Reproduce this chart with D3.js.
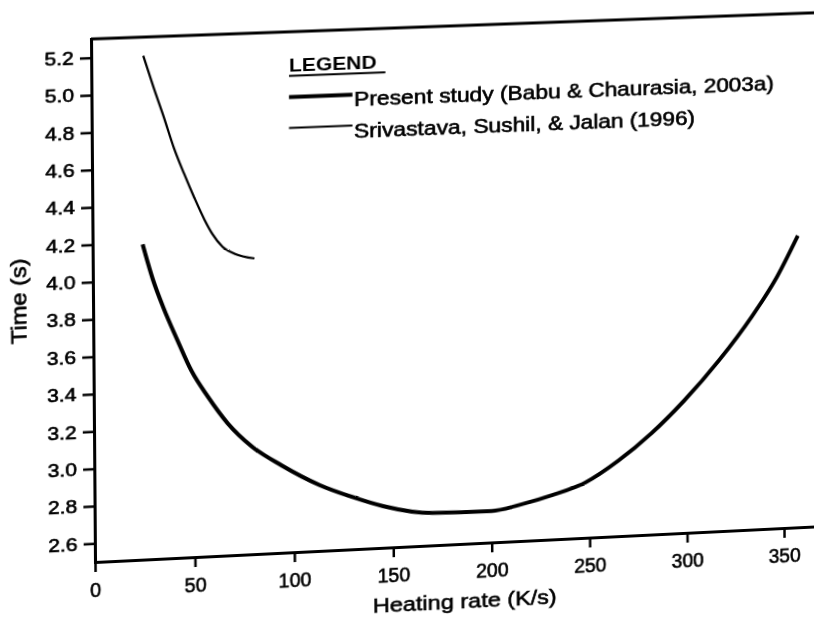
<!DOCTYPE html>
<html>
<head>
<meta charset="utf-8">
<script src="https://cdn.jsdelivr.net/npm/d3@7"></script>
<style>
  html, body { margin: 0; padding: 0; width: 814px; height: 619px; overflow: hidden; background: #fff; }
  #chart { position: absolute; left: 0; top: 0; }
  text { font-family: "Liberation Sans", Arial, sans-serif; fill: #000; }
</style>
</head>
<body>
<div id="chart"></div>
<script>
// values
var presentRate = [25, 30, 35, 42, 49, 57, 67, 79, 94, 113, 130, 145, 170, 200, 216, 231, 248, 265, 282, 299, 317, 334, 346, 358];
var presentTime = [4.19, 4.00, 3.85, 3.67, 3.50, 3.36, 3.21, 3.08, 2.97, 2.855, 2.78, 2.725, 2.675, 2.67, 2.70, 2.74, 2.80, 2.91, 3.05, 3.22, 3.43, 3.66, 3.85, 4.09];
var srivRate = [26, 31, 36, 41, 46, 51, 56, 60, 65, 71, 81];
var srivTime = [5.20, 5.03, 4.87, 4.70, 4.56, 4.43, 4.31, 4.23, 4.16, 4.12, 4.09];
var xTicks = [0, 50, 100, 150, 200, 250, 300, 350];
var yTicks = [2.6, 2.8, 3.0, 3.2, 3.4, 3.6, 3.8, 4.0, 4.2, 4.4, 4.6, 4.8, 5.0, 5.2];
var legendLabels = ["Present study (Babu & Chaurasia, 2003a)", "Srivastava, Sushil, & Jalan (1996)"];

var W = 900, H = 680;

// flat layout, later warped to follow the skew of the scanned page
var x = d3.scaleLinear().domain([0, 400]).range([95, 95 + 400 * 689 / 350]);
var y = d3.scaleLinear().domain([2.5, 5.3]).range([562, 39]);

// solve the 8 unknowns of a homography from 4 point pairs
function homography(src, dst) {
  var A = [], b = [], n = 8;
  for (var i = 0; i < 4; i++) {
    var sx = src[i][0], sy = src[i][1], u = dst[i][0], v = dst[i][1];
    A.push([sx, sy, 1, 0, 0, 0, -sx * u, -sy * u]); b.push(u);
    A.push([0, 0, 0, sx, sy, 1, -sx * v, -sy * v]); b.push(v);
  }
  for (var c = 0; c < n; c++) {
    var p = c;
    for (var r = c + 1; r < n; r++) if (Math.abs(A[r][c]) > Math.abs(A[p][c])) p = r;
    var t = A[c]; A[c] = A[p]; A[p] = t;
    t = b[c]; b[c] = b[p]; b[p] = t;
    for (var r2 = c + 1; r2 < n; r2++) {
      var f = A[r2][c] / A[c][c];
      for (var k = c; k < n; k++) A[r2][k] -= f * A[c][k];
      b[r2] -= f * b[c];
    }
  }
  var h = new Array(n);
  for (var r3 = n - 1; r3 >= 0; r3--) {
    var s = b[r3];
    for (var k2 = r3 + 1; k2 < n; k2++) s -= A[r3][k2] * h[k2];
    h[r3] = s / A[r3][r3];
  }
  return h;
}
function applyH(h, px, py) {
  var w = h[6] * px + h[7] * py + 1;
  return [(h[0] * px + h[1] * py + h[2]) / w, (h[3] * px + h[4] * py + h[5]) / w];
}

var flatCorners = [[x(0), y(2.5)], [x(350), y(2.5)], [x(0), y(5.3)], [x(350), y(5.3)]];
var pageCorners = [[95, 562], [784, 528], [91, 39], [781, 14]];
var hw = homography(flatCorners, pageCorners);
var hinv = homography(pageCorners, flatCorners);
function toFlat(px, py) { return applyH(hinv, px, py); }

var svg = d3.select("#chart")
  .append("svg")
    .attr("width", W)
    .attr("height", H)
    .style("transform-origin", "0 0")
    .style("transform", "matrix3d(" + [hw[0], hw[3], 0, hw[6], hw[1], hw[4], 0, hw[7], 0, 0, 1, 0, hw[2], hw[5], 0, 1].join(",") + ")");

// widen text a little, the scanned lettering is broad
function stretch(sel, k) {
  sel.each(function() {
    var len = this.getComputedTextLength();
    d3.select(this).attr("textLength", len * k).attr("lengthAdjust", "spacingAndGlyphs");
  });
}
var ink = 0.6;

// top frame line
svg.append("line")
  .attr("x1", x(0)).attr("x2", x(400))
  .attr("y1", y(5.3)).attr("y2", y(5.3))
  .attr("stroke", "#000").attr("stroke-width", 3);

// x axis
var gx = svg.append("g")
  .attr("transform", "translate(0," + y(2.5) + ")")
  .call(d3.axisBottom(x).tickValues(xTicks).tickSize(10).tickSizeOuter(0).tickPadding(11).tickFormat(d3.format("d")));

// y axis
var gy = svg.append("g")
  .attr("transform", "translate(" + x(0) + ",0)")
  .call(d3.axisLeft(y).tickValues(yTicks).tickSize(11).tickSizeOuter(0).tickPadding(6).tickFormat(d3.format(".1f")));

[gx, gy].forEach(function(g) {
  g.select(".domain").attr("stroke", "#000").attr("stroke-width", 3).attr("stroke-linecap", "square");
  g.selectAll(".tick line").attr("stroke", "#000").attr("stroke-width", 2.5);
  g.attr("font-family", null).attr("font-size", null);
  g.selectAll("text").attr("fill", "#000").attr("stroke", "#000").attr("stroke-width", ink);
});
gx.selectAll("text").attr("font-size", 19.5);
gy.selectAll("text").attr("font-size", 18);
stretch(gy.selectAll("text"), 1.15);

// axis titles
var yt = toFlat(26, 301);
var yTitle = svg.append("text")
  .attr("transform", "translate(" + yt[0] + "," + yt[1] + ") rotate(-90)")
  .attr("text-anchor", "middle")
  .attr("font-size", 21)
  .attr("stroke", "#000").attr("stroke-width", ink)
  .text("Time (s)");
stretch(yTitle, 1.12);

var xt = toFlat(465, 608);
var xTitle = svg.append("text")
  .attr("x", xt[0]).attr("y", xt[1])
  .attr("text-anchor", "middle")
  .attr("font-size", 21)
  .attr("stroke", "#000").attr("stroke-width", ink)
  .text("Heating rate (K/s)");
stretch(xTitle, 1.12);

// curves
var line = d3.line()
  .x(function(d) { return x(d[0]); })
  .y(function(d) { return y(d[1]); })
  .curve(d3.curveMonotoneX);

svg.append("path")
  .datum(d3.zip(presentRate, presentTime))
  .attr("fill", "none")
  .attr("stroke", "#000")
  .attr("stroke-width", 4)
  .attr("d", line);

svg.append("path")
  .datum(d3.zip(srivRate, srivTime))
  .attr("fill", "none")
  .attr("stroke", "#000")
  .attr("stroke-width", 2.2)
  .attr("d", line);

// legend
var lt = toFlat(289, 72);
var legTitle = svg.append("text")
  .attr("x", lt[0]).attr("y", lt[1])
  .attr("font-size", 19)
  .attr("font-weight", "bold")
  .text("LEGEND");
stretch(legTitle, 1.1);
var lu = toFlat(289, 76);
svg.append("line")
  .attr("x1", lu[0]).attr("x2", lu[0] + legTitle.node().getComputedTextLength() * 1.1)
  .attr("y1", lu[1]).attr("y2", lu[1])
  .attr("stroke", "#000").attr("stroke-width", 2);

var legLineY = [97, 128];
var legTextY = [106, 138];
var legWidth = [4, 2.2];
legendLabels.forEach(function(label, i) {
  var a = toFlat(289, legLineY[i]);
  svg.append("line")
    .attr("x1", a[0]).attr("x2", a[0] + 63)
    .attr("y1", a[1]).attr("y2", a[1])
    .attr("stroke", "#000").attr("stroke-width", legWidth[i]);
  var t = toFlat(354, legTextY[i]);
  var txt = svg.append("text")
    .attr("x", t[0]).attr("y", t[1])
    .attr("font-size", 19.5)
    .attr("stroke", "#000").attr("stroke-width", ink)
    .text(label);
  stretch(txt, 1.17);
});
</script>
</body>
</html>
